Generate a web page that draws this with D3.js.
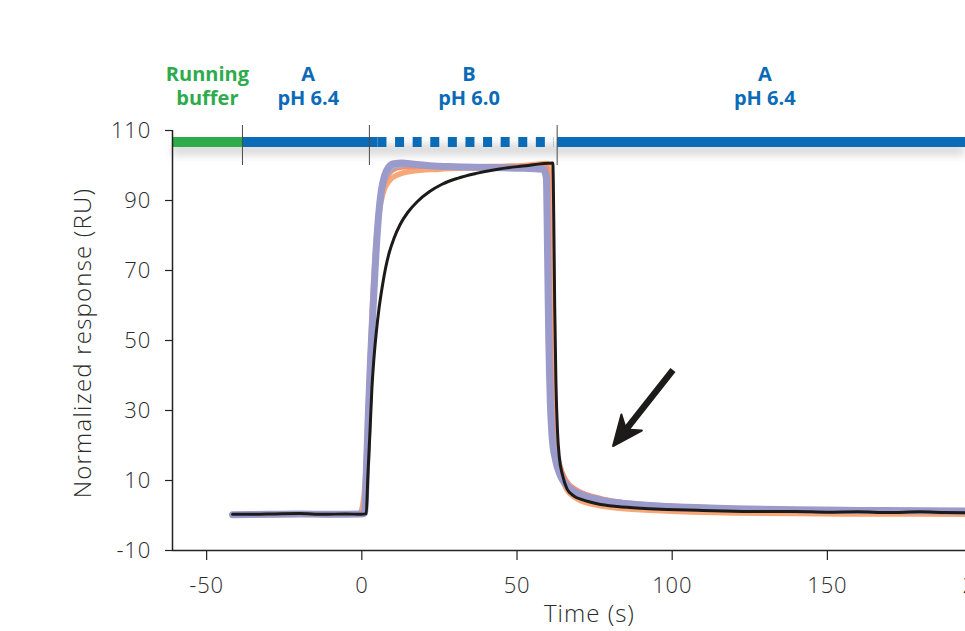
<!DOCTYPE html>
<html>
<head>
<meta charset="utf-8">
<script src="https://cdn.jsdelivr.net/npm/d3@7"></script>
<style>
  html, body { margin: 0; padding: 0; background: #fff; }
  svg { display: block; }
  .tick text { font-family: "Open Sans", sans-serif; font-weight: 300; font-size: 22px; letter-spacing: 0.8px; fill: #2a2a2a; }
</style>
</head>
<body>
<svg id="chart" width="965" height="631"></svg>
<script>
// Axis ticks
const xTicks = [-50, 0, 50, 100, 150, 200];
const yTicks = [-10, 10, 30, 50, 70, 90, 110];

// Buffer phases shown above the sensorgram (times in seconds)
const phaseLines = [["Running", "buffer"], ["A", "pH 6.4"], ["B", "pH 6.0"], ["A", "pH 6.4"]];
const phaseLabelTimes = [-49.6, -17.1, 34.7, 130];
const phaseColors = ["#2eab4b", "#0b6bb6", "#0b6bb6", "#0b6bb6"];
const barSegments = [
  { from: -61, to: -38.3, color: "#2eab4b", dashed: false },
  { from: -38.3, to: 5.2, color: "#0b6bb6", dashed: false },
  { from: 5.2, to: 62.0, color: "#0b6bb6", dashed: true },
  { from: 63.1, to: 196, color: "#0b6bb6", dashed: false }
];
const phaseSwitchTimes = [-38.3, 2.6, 63.1];

// Normalized responses (RU) vs time (s)
const traceOrange = [
  [-41.5,0.0],[-30,0.1],[-20,0.2],[-10,0.1],[-2,0.2],[-0.5,0.4],[0.5,3],[1.5,13],[2.5,36],[3.5,58],[4.5,75],
  [5.5,85],[7,92],[9,95.5],[12,97.3],[16,98.2],[25,98.8],[40,99.3],[52,99.8],[60,100.4],[60.6,98],
  [61.1,62],[61.7,36],[62.5,21],[64,12.5],[66,7.6],[70,4.4],[76,2.8],[85,1.8],[100,1.1],[120,0.6],
  [140,0.4],[160,0.3],[180,0.3],[196,0.2]
];
const traceSalmon = [
  [-41.5,0.1],[-30,0.2],[-20,0.3],[-10,0.2],[0,0.3],[1.0,0.6],[1.8,14],[2.6,34],[3.4,52],[4.3,70],
  [5.3,83],[6.5,91.5],[8,96],[10,98.4],[13,99.3],[20,99.5],[35,99.6],[50,99.8],[59.5,99.8],[60.3,96],
  [60.8,60],[61.5,35],[62.5,22],[64,14.5],[66,10],[69,7.4],[73,5.8],[78,4.6],[85,3.6],[95,2.9],
  [110,2.3],[130,1.7],[150,1.3],[175,1.0],[196,0.8]
];
const traceBlue = [
  [-41.5,0.0],[-25,0.2],[-10,0.1],[0,0.2],[1.0,0.4],[1.7,13],[2.4,31],[3.2,48],[4.1,64],[5.0,78],
  [6.0,88],[7.2,94.5],[8.8,98],[11,99.6],[15,100],[25,99.6],[40,99.3],[58.5,99.0],[59.6,96],[60.1,70],
  [60.6,45],[61.2,29],[62.2,19],[63.8,13],[66,9],[69,6.6],[73,5.1],[80,3.9],[90,3.0],[105,2.4],
  [125,1.9],[150,1.4],[175,1.0],[196,0.7]
];
const tracePurple = [
  [-41.5,0.1],[-30,0.2],[-20,0.3],[-10,0.2],[0,0.3],[1.0,0.5],[1.6,12],[2.3,30],[3.0,45],[3.9,61],
  [4.8,76],[5.6,86],[6.5,93],[7.5,97],[8.8,99.4],[10.5,100.4],[13,100.6],[17,100.2],[22,99.8],[30,99.5],
  [40,99.3],[50,99.1],[58.5,98.8],[59.6,96.5],[60.0,75],[60.4,50],[60.9,32],[61.5,22],[62.5,16],
  [64,11.5],[66,8.6],[69,6.5],[73,5.1],[78,4.1],[85,3.3],[95,2.6],[105,2.2],[120,1.8],[140,1.5],
  [160,1.3],[180,1.2],[196,1.1]
];
const traceBlack = [
  [-41.5,0.2],[-35,0.2],[-28,0.3],[-20,0.4],[-12,0.2],[-5,0.3],[0,0.2],[1.6,0.4],[2.1,11],[2.8,24],
  [3.4,36],[4.0,44],[4.8,52],[5.7,59],[6.7,65],[7.8,70.5],[9.0,75],[10.5,79],[12.5,83],[15,86.5],
  [18,89.5],[22,92.4],[26,94.5],[31,96.2],[37,97.6],[44,98.8],[52,99.7],[61.7,100.6],[62.0,85],
  [62.3,60],[62.7,38],[63.2,24],[63.8,16.5],[64.8,11.5],[66.3,7.4],[68.5,5.4],[71.4,4.3],[76,3.2],
  [82.5,2.4],[90,1.9],[98.5,1.6],[110,1.3],[120,1.1],[130,1.0],[140,1.0],[150,0.8],[160,0.9],
  [170,0.7],[180,0.9],[188,0.7],[196,0.6]
];

// Arrow annotation: tail and tip in data units
const arrowTail = [100.4, 41.4];
const arrowTip = [81.1, 19.7];

const svg = d3.select("#chart");
const plotLeft = 172, plotRight = 965, plotTop = 130, plotBottom = 550;

const x = d3.scaleLinear().domain([-61, 194.5]).range([plotLeft, plotRight]);
const y = d3.scaleLinear().domain([-10, 110]).range([plotBottom, plotTop]);
const fmt = d => String(d);

const defs = svg.append("defs");
defs.append("clipPath").attr("id", "plotClip")
  .append("rect").attr("x", plotLeft).attr("y", plotTop - 20)
  .attr("width", plotRight - plotLeft).attr("height", plotBottom - plotTop + 20);
const blur = defs.append("filter").attr("id", "barShadow")
  .attr("x", "-5%").attr("y", "-200%").attr("width", "110%").attr("height", "500%");
blur.append("feGaussianBlur").attr("stdDeviation", 4);

// Phase bar with its soft shadow
const barY = 142;
svg.append("rect")
  .attr("x", plotLeft).attr("y", barY + 2).attr("width", plotRight - plotLeft).attr("height", 11)
  .attr("fill", "#b8b8b8").attr("opacity", 0.55).attr("filter", "url(#barShadow)");

svg.append("g").selectAll("line").data(barSegments).join("line")
  .attr("x1", d => x(d.from)).attr("x2", d => x(d.to))
  .attr("y1", barY).attr("y2", barY)
  .attr("stroke", d => d.color).attr("stroke-width", 10)
  .attr("stroke-dasharray", d => d.dashed ? "9 8.6" : null);

svg.append("g").selectAll("line").data(phaseSwitchTimes).join("line")
  .attr("x1", d => x(d)).attr("x2", d => x(d))
  .attr("y1", 125).attr("y2", 165)
  .attr("stroke", "#4a4a4a").attr("stroke-width", 1);

// Phase labels, two lines each
const labels = svg.append("g")
  .attr("font-family", "'Open Sans', sans-serif").attr("font-weight", 700)
  .attr("font-size", 20).attr("text-anchor", "middle");
phaseLines.forEach((lines, i) => {
  lines.forEach((ln, j) => {
    labels.append("text")
      .attr("x", x(phaseLabelTimes[i])).attr("y", 81 + j * 24)
      .attr("fill", phaseColors[i])
      .text(ln);
  });
});

// Axes
const xAxis = svg.append("g").attr("transform", `translate(0,${plotBottom})`)
  .call(d3.axisBottom(x).tickValues(xTicks).tickSize(10).tickPadding(17).tickFormat(fmt));
xAxis.select(".domain").attr("d", `M${plotLeft},0.5H${plotRight}`).attr("stroke", "#222").attr("stroke-width", 1.5);
xAxis.selectAll(".tick line").attr("stroke", "#222").attr("stroke-width", 1.2);

const yAxis = svg.append("g").attr("transform", `translate(${plotLeft},0)`)
  .call(d3.axisLeft(y).tickValues(yTicks).tickSize(7).tickPadding(14).tickFormat(fmt));
yAxis.select(".domain").attr("d", `M0.5,${plotTop}V${plotBottom}`).attr("stroke", "#222").attr("stroke-width", 1.5);
yAxis.selectAll(".tick line").attr("stroke", "#222").attr("stroke-width", 1.2);

svg.append("text")
  .attr("x", x(0) + (x(100) - x(0)) * 0.735).attr("y", 622)
  .attr("text-anchor", "middle")
  .attr("font-family", "'Open Sans', sans-serif").attr("font-weight", 300)
  .attr("font-size", 24).attr("letter-spacing", 1).attr("fill", "#2a2a2a")
  .text("Time (s)");

svg.append("text")
  .attr("transform", `translate(91,343) rotate(-90)`)
  .attr("text-anchor", "middle")
  .attr("font-family", "'Open Sans', sans-serif").attr("font-weight", 300)
  .attr("font-size", 24).attr("letter-spacing", 1.2).attr("fill", "#2a2a2a")
  .text("Normalized response (RU)");

// Sensorgram traces
const line = d3.line().x(d => x(d[0])).y(d => y(d[1])).curve(d3.curveMonotoneX);
const traces = [
  { data: traceOrange, color: "#f7a878", width: 5.5 },
  { data: traceSalmon, color: "#ec917c", width: 4.5 },
  { data: traceBlue, color: "#8db6de", width: 4 },
  { data: tracePurple, color: "#9a9acb", width: 7 },
  { data: traceBlack, color: "#1d1a1a", width: 3 }
];
const plot = svg.append("g").attr("clip-path", "url(#plotClip)");
plot.selectAll("path").data(traces).join("path")
  .attr("d", d => line(d.data))
  .attr("fill", "none")
  .attr("stroke", d => d.color)
  .attr("stroke-width", d => d.width)
  .attr("stroke-linejoin", "round")
  .attr("stroke-linecap", "round");

// Arrow pointing at the dissociation tail
const ax0 = x(arrowTail[0]), ay0 = y(arrowTail[1]);
const ax1 = x(arrowTip[0]), ay1 = y(arrowTip[1]);
const len = Math.hypot(ax1 - ax0, ay1 - ay0);
const ux = (ax1 - ax0) / len, uy = (ay1 - ay0) / len;
const px = -uy, py = ux;
const headLen = 30, headHalf = 13, notch = 9;
svg.append("line")
  .attr("x1", ax0).attr("y1", ay0)
  .attr("x2", ax1 - ux * (headLen - notch)).attr("y2", ay1 - uy * (headLen - notch))
  .attr("stroke", "#1d1a1a").attr("stroke-width", 6.5);
const bx = ax1 - ux * headLen, by = ay1 - uy * headLen;
svg.append("path")
  .attr("d", `M${ax1},${ay1}L${bx + px * headHalf},${by + py * headHalf}L${ax1 - ux * (headLen - notch)},${ay1 - uy * (headLen - notch)}L${bx - px * headHalf},${by - py * headHalf}Z`)
  .attr("fill", "#1d1a1a").attr("stroke", "#1d1a1a").attr("stroke-width", 2).attr("stroke-linejoin", "round");
</script>
</body>
</html>
